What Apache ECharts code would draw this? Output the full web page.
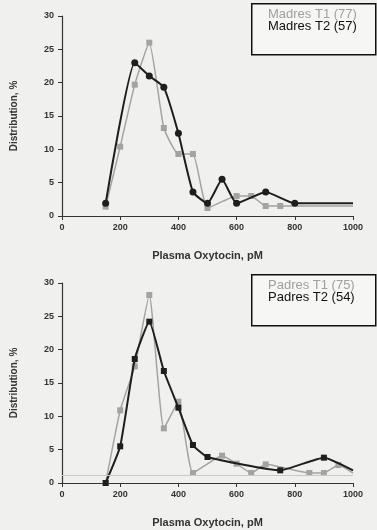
<!DOCTYPE html>
<html><head><meta charset="utf-8">
<script src="https://cdn.jsdelivr.net/npm/echarts@6/dist/echarts.min.js"></script>
<style>html,body{margin:0;padding:0;background:#f0f0ee;}#c{width:377px;height:530px;}</style>
</head><body><div id="c"></div>
<script>
// Top panel (Madres)
const madresT1_x = [150, 200, 250, 300, 350, 400, 450, 500, 600, 650, 700, 750, 1000];
const madresT1_y = [1.4, 10.4, 19.7, 26, 13.2, 9.3, 9.3, 1.2, 3.0, 3.0, 1.5, 1.5, 1.5];
const madresT2_x = [150, 250, 300, 350, 400, 450, 500, 550, 600, 700, 800, 1000];
const madresT2_y = [1.9, 23, 21, 19.3, 12.4, 3.6, 1.9, 5.5, 1.9, 3.6, 1.9, 1.9];
// Bottom panel (Padres)
const padresT1_x = [150, 200, 250, 300, 350, 400, 450, 550, 600, 650, 700, 850, 900, 950, 1000];
const padresT1_y = [0, 10.9, 17.5, 28.2, 8.2, 12.2, 1.5, 4.1, 2.9, 1.5, 2.8, 1.5, 1.5, 2.7, 1.5];
const padresT2_x = [150, 200, 250, 300, 350, 400, 450, 500, 750, 900, 1000];
const padresT2_y = [0, 5.5, 18.6, 24.2, 16.8, 11.3, 5.7, 3.9, 1.9, 3.8, 1.9];
const xTicks = [0, 200, 400, 600, 800, 1000];
const yTicks = [0, 5, 10, 15, 20, 25, 30];
const legendTop = ['Madres T1 (77)', 'Madres T2 (57)'];
const legendBottom = ['Padres T1 (75)', 'Padres T2 (54)'];
const refLineBottom = 1.2;

const GRAY = '#a3a3a3', BLACK = '#1e1e1e';
function pts(xs, ys, noSymbolLast) {
  return xs.map((x, i) => {
    const o = {value: [x, ys[i]]};
    if (noSymbolLast && i === xs.length - 1) o.symbol = 'none';
    return o;
  });
}
function xAxis(idx) {
  return {
    gridIndex: idx, type: 'value', min: 0, max: 1000, interval: 200,
    name: 'Plasma Oxytocin, pM', nameLocation: 'middle', nameGap: 34,
    nameTextStyle: {fontFamily: 'Liberation Sans, Arial', fontWeight: 'bold', fontSize: 11, color: '#333'},
    axisLine: {lineStyle: {color: '#333', width: 1.2}},
    axisTick: {inside: false, length: 4, lineStyle: {color: '#333'}},
    axisLabel: {fontFamily: 'Liberation Sans, Arial', fontWeight: 'bold', fontSize: 9, color: '#333', margin: 7,
      formatter: v => xTicks.includes(v) ? String(v) : ''},
    splitLine: {show: false}
  };
}
function yAxis(idx) {
  return {
    gridIndex: idx, type: 'value', min: 0, max: 30, interval: 5,
    name: 'Distribution, %', nameLocation: 'middle', nameGap: 43, nameRotate: 90,
    nameTextStyle: {fontFamily: 'Liberation Sans, Arial', fontWeight: 'bold', fontSize: 10, color: '#333'},
    axisLine: {show: true, lineStyle: {color: '#333', width: 1.2}},
    axisTick: {show: true, length: 4, lineStyle: {color: '#333'}},
    axisLabel: {fontFamily: 'Liberation Sans, Arial', fontWeight: 'bold', fontSize: 9, color: '#333', margin: 8,
      formatter: v => yTicks.includes(v) ? String(v) : ''},
    splitLine: {show: false}
  };
}
function grayS(name, idx, xs, ys, extra) {
  return Object.assign({
    name, type: 'line', xAxisIndex: idx, yAxisIndex: idx, smooth: 0.15,
    data: pts(xs, ys, true), symbol: 'rect', symbolSize: 6,
    lineStyle: {color: GRAY, width: 1.5}, itemStyle: {color: GRAY}, z: 2
  }, extra || {});
}
function blackS(name, idx, xs, ys, sym, size) {
  return {
    name, type: 'line', xAxisIndex: idx, yAxisIndex: idx, smooth: 0.15,
    data: pts(xs, ys, true), symbol: sym, symbolSize: size,
    lineStyle: {color: BLACK, width: 2}, itemStyle: {color: BLACK}, z: 3
  };
}
function legendBox(top, names) {
  return [
    {type: 'rect', left: 251, top: top, shape: {width: 124, height: 51},
      style: {fill: '#f6f6f4', stroke: '#111', lineWidth: 1.5}},
    {type: 'text', left: 268, top: top + 5, style: {text: names[0], fill: '#a0a0a0', font: '13px Liberation Sans, Arial'}},
    {type: 'text', left: 268, top: top + 17, style: {text: names[1], fill: '#111', font: '13px Liberation Sans, Arial'}}
  ];
}
const chart = echarts.init(document.getElementById('c'), null, {renderer: 'canvas'});
chart.setOption({
  backgroundColor: '#f0f0ee',
  animation: false,
  grid: [
    {left: 62, right: 24, top: 16, height: 200},
    {left: 62, right: 24, top: 283, height: 200}
  ],
  xAxis: [xAxis(0), xAxis(1)],
  yAxis: [yAxis(0), yAxis(1)],
  series: [
    grayS(legendTop[0], 0, madresT1_x, madresT1_y),
    blackS(legendTop[1], 0, madresT2_x, madresT2_y, 'circle', 7),
    grayS(legendBottom[0], 1, padresT1_x, padresT1_y, {
      markLine: {silent: true, symbol: 'none', label: {show: false},
        lineStyle: {color: '#c8c8c8', width: 1, type: 'solid'}, data: [{yAxis: refLineBottom}]}
    }),
    blackS(legendBottom[1], 1, padresT2_x, padresT2_y, 'rect', 6)
  ],
  graphic: [...legendBox(3, legendTop), ...legendBox(274, legendBottom)]
});
</script></body></html>
